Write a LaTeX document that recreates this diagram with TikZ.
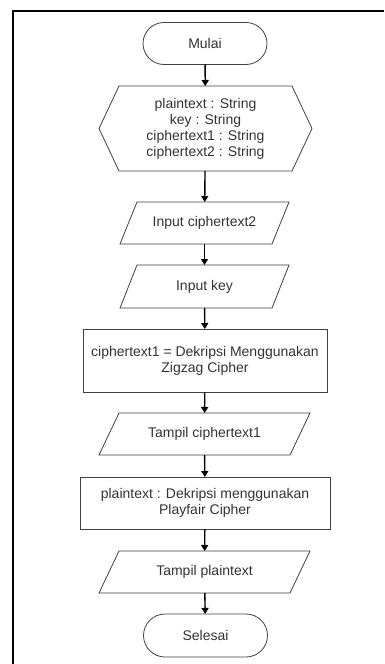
\documentclass[tikz,border=0pt]{standalone}
\usepackage{fontspec}
\setmainfont{Liberation Sans}
\usetikzlibrary{shapes.misc,arrows.meta}

\tikzset{
  box/.style={draw=black!75, line width=0.8pt, text=black!80, align=center,
    font=\fontsize{14}{16}\selectfont, inner sep=2pt, outer sep=0pt},
  term/.style={box, rounded rectangle, minimum width=128pt, minimum height=42pt},
  proc/.style={box, rectangle},
  io/.style={box, draw=none, rectangle, minimum height=42pt},
  edge line/.style={draw=black!75, line width=0.8pt},
  arr/.style={-{Triangle[length=6pt,width=7pt]}, line width=1.4pt},
}

\begin{document}
\begin{tikzpicture}[x=1pt,y=-1pt]
\useasboundingbox (0,0) rectangle (384,664);
\draw[line width=2pt] (13,664) -- (13,11) -- (384,11);

\node[term] (1) at (205,43.5) {Mulai};
\node[box, draw=none, minimum width=213pt, minimum height=85pt] (2) at (205.5,128.5)
  {plaintext : String\\ key : String\\ ciphertext1 : String\\ ciphertext2 : String};

\node[io, minimum width=169pt] (3) at (204.5,223) {Input ciphertext2};
\node[io, minimum width=169pt, minimum height=43pt] (4) at (204.5,286.5) {Input key};

\node[proc, minimum width=244pt, minimum height=63pt] (5) at (205,360.5)
  {ciphertext1 = Dekripsi Menggunakan\\ Zigzag Cipher};

\node[io, minimum width=211pt] (6) at (204.5,434) {Tampil ciphertext1};

\node[proc, minimum width=250pt, minimum height=52pt] (7) at (205,503)
  {plaintext : Dekripsi menggunakan\\ Playfair Cipher};

\node[io, minimum width=211pt] (8) at (204.5,572) {Tampil plaintext};

\node[term, minimum height=43pt] (9) at (205.5,635.5) {Selesai};

% outlines of the hexagon and the parallelograms
\draw[edge line] ([xshift=20pt]2.north west) -- ([xshift=-20pt]2.north east)
  -- (2.east) -- ([xshift=-20pt]2.south east) -- ([xshift=20pt]2.south west) -- (2.west) -- cycle;
\draw[edge line] ([xshift=17pt]3.north west) -- (3.north east) -- ([xshift=-17pt]3.south east) -- (3.south west) -- cycle;
\draw[edge line] ([xshift=17pt]4.north west) -- (4.north east) -- ([xshift=-17pt]4.south east) -- (4.south west) -- cycle;
\draw[edge line] ([xshift=20pt]6.north west) -- (6.north east) -- ([xshift=-20pt]6.south east) -- (6.south west) -- cycle;
\draw[edge line] ([xshift=20pt]8.north west) -- (8.north east) -- ([xshift=-20pt]8.south east) -- (8.south west) -- cycle;

\draw[arr] (1) -- (2);
\draw[arr] (2) -- (3);
\draw[arr] (3) -- (4);
\draw[arr] (4) -- (5);
\draw[arr] (5) -- (6);
\draw[arr] (6) -- (7);
\draw[arr] (7) -- (8);
\draw[arr] (8) -- (9);
\end{tikzpicture}
\end{document}
